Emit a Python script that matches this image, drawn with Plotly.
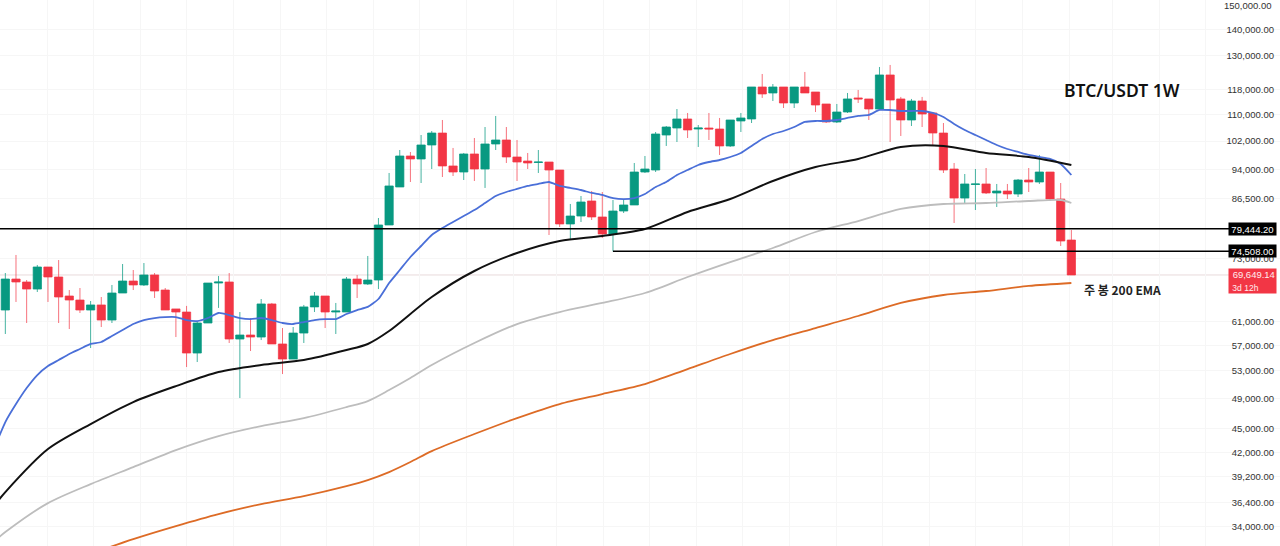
import math

import pandas as pd
import plotly.graph_objs as go

# weekly candles, first one is week 0
week_dates = pd.date_range("2024-02-26", periods=102, freq="W-MON")

opens = [
    63028, 68850, 68270, 66910, 71250, 69250, 65600, 64850, 63028, 63950,
    61257, 66160, 68460, 67690, 69649, 66724, 63230, 62670, 55760, 60740,
    68070, 68270, 58030, 58700, 58360, 64130, 57220, 54810, 59030, 63590,
    65600, 62670, 62670, 68850, 67880, 68652, 80310, 89490, 97750, 96920,
    100860, 104360, 95010, 93390, 98310, 94190, 101150, 102306, 97470, 96360,
    95950, 96090, 93924, 80540, 82390, 85990, 82160, 78270, 83570, 85020,
    93390, 93924, 103770, 105860, 108620, 105560, 105860, 105560, 100580, 108000,
    108620, 118980, 116970, 118980, 113680, 118980, 117300, 113360, 107690, 110800,
    115330, 115000, 111750, 123130, 115000, 108306, 114330, 110490, 104360, 94190,
    86720, 90130, 90260, 87970, 88470, 87720, 91286, 90770, 93390, 86470,
    76940,
]
highs = [
    70040, 73730, 68652, 71660, 71250, 72678, 66724, 67110, 64670, 65410,
    67690, 71860, 70637, 72060, 70040, 67110, 63230, 63770, 60910, 68070,
    69450, 70040, 62670, 61610, 65040, 64310, 59880, 60050, 63950, 66350,
    65600, 64310, 69250, 69649, 73520, 81920, 93130, 99432, 98870, 103770,
    104960, 108306, 100010, 98590, 102890, 106160, 109550, 106160, 102306, 98590,
    99432, 96090, 93924, 85260, 87220, 88470, 88220, 86229, 86229, 95820,
    97750, 104660, 106470, 111750, 110490, 106770, 110490, 108930, 108306, 110490,
    118980, 123470, 119990, 118980, 118980, 124180, 117300, 113360, 113360, 116970,
    117971, 115000, 125960, 126680, 115660, 115000, 115660, 110800, 107380, 95820,
    92860, 94190, 94460, 90260, 90260, 91550, 94460, 98030, 93390, 90510,
    79164,
]
lows = [
    58870, 64490, 60740, 66350, 64490, 60740, 59710, 62500, 56560, 60050,
    60740, 66160, 66724, 67500, 65230, 63028, 58360, 53580, 54350, 60740,
    63410, 57380, 49050, 56080, 57864, 57220, 52520, 54810, 57380, 62670,
    59880, 58870, 62670, 65230, 67690, 66910, 80310, 89490, 90770, 90510,
    94190, 92070, 92330, 91286, 91030, 89240, 99432, 95820, 91030, 94190,
    93130, 78050, 79850, 76940, 80990, 81453, 77380, 74508, 83090, 85020,
    93130, 93390, 100580, 101720, 102890, 100290, 102306, 98030, 100290, 104660,
    107380, 115330, 114330, 112070, 112070, 116970, 110800, 107380, 107380, 110490,
    113680, 108306, 111436, 101720, 103480, 106470, 106160, 100860, 93130, 80760,
    85500, 83807, 87720, 84530, 86470, 86970, 88220, 90260, 85990, 75640,
    69649,
]
closes = [
    68850, 68270, 66910, 71250, 69250, 65410, 64850, 63028, 63950, 61257,
    66160, 68460, 67690, 69649, 66540, 63028, 62670, 55760, 60740, 68070,
    68270, 58030, 58700, 58360, 64130, 57220, 54810, 59030, 63590, 65600,
    62670, 62850, 68850, 67880, 68652, 80310, 89750, 97750, 96920, 100860,
    104360, 95010, 93390, 98310, 94190, 101150, 102306, 97470, 96090, 95820,
    96090, 93924, 80540, 82390, 85740, 82160, 78270, 83570, 85020, 93390,
    94190, 104070, 106160, 108620, 105263, 105860, 105560, 100580, 108306, 108930,
    118980, 116640, 118980, 113680, 118980, 116970, 113030, 107690, 110800, 115000,
    115000, 111750, 123130, 114657, 108306, 114330, 110170, 104360, 93924, 86720,
    90260, 90260, 87970, 88470, 87720, 91286, 90770, 93390, 86470, 76720,
    69649,
]

# 20 EMA, one value for every week
ema20 = [
    42650, 45810, 48223, 50470, 52377, 53737, 54658, 55606, 56400, 57220, 57540,
    58530, 59536, 60570, 61257, 61610, 61780, 61780, 61257, 61080, 61610,
    62500, 62140, 61610, 61430, 61610, 61257, 60740, 60570, 60910, 61257,
    61430, 61430, 62320, 63028, 63590, 65040, 68070, 70637, 73310, 75640,
    78050, 79620, 80990, 82390, 83807, 85500, 87220, 88220, 88980, 89750,
    90260, 90770, 89750, 89240, 88722, 87970, 87470, 86720, 86470, 86720,
    87720, 89490, 90770, 92600, 93924, 95280, 96090, 96639, 97470, 98590,
    100580, 102600, 104070, 104960, 106160, 107690, 108000, 108000, 108306, 108930,
    109550, 109860, 111436, 111436, 111120, 111120, 111120, 110490, 109240, 107080,
    105263, 103770, 102306, 100860, 99720, 98870, 98030, 97470, 96920, 95550,
    92600,
]

# slower EMAs, read every few weeks
ema50_weeks = [0, 1, 5, 9, 13, 17, 21, 25, 29, 33, 35, 37, 41, 45, 49, 53, 57, 61, 65, 69, 73, 77, 81, 85, 89, 93, 97, 101]
ema50 = [
    36160, 37525, 42416, 45550, 48494, 50745, 52820, 53890, 54658, 56238, 57220, 59367, 65410, 70440,
    74140, 76720, 77830, 79390, 83330, 86470, 91030, 94730, 96920, 100290, 100580, 98590, 97470, 95280,
]
ema100_weeks = [0, 1, 5, 9, 13, 17, 21, 25, 29, 33, 35, 37, 39, 41, 45, 49, 53, 57, 61, 65, 69, 73, 77, 81, 85, 89, 93, 97, 100, 101]
ema100 = [
    32640, 33483, 36365, 38390, 40290, 42295, 44010, 45290, 46330, 47800, 48630, 50180, 51930, 53890, 57380,
    60560, 62670, 64310, 66160, 69250, 72260, 75210, 78720, 81220, 84050, 85260, 85500, 85990, 86229, 85500,
]
ema200_weeks = [10, 13, 17, 21, 25, 29, 33, 35, 37, 39, 41, 45, 49, 53, 57, 61, 65, 69, 73, 77, 81, 85, 89, 93, 97, 101]
ema200 = [
    31809, 32822, 34063, 35248, 36267, 37103, 38175, 38830, 39724, 40876, 42175, 44272, 46330,
    48223, 49616, 51051, 53270, 55606, 57864, 59880, 61965, 64310, 65787, 66540, 67500, 68070,
]

axis_ticks = [
    140000, 130000, 118000, 110000, 102000, 94000, 86500, 73000,
    61000, 57000, 53000, 49000, 45000, 42000, 39200, 36400, 34000,
]
top_tick = 150000

support_high = 79444.20
support_low = 74508.00
support_low_start = 58
last_price = 69649.14
countdown = "3d 12h"

fig = go.Figure()

fig.add_trace(
    go.Candlestick(
        x=week_dates[1:],
        open=opens,
        high=highs,
        low=lows,
        close=closes,
        whiskerwidth=0,
        increasing=dict(
            line=dict(color="rgba(8,153,129,0.75)", width=1), fillcolor="#089981"
        ),
        decreasing=dict(
            line=dict(color="rgba(242,54,69,0.7)", width=1), fillcolor="#F23645"
        ),
    )
)

fig.add_trace(
    go.Scatter(
        x=week_dates, y=ema20, mode="lines",
        line=dict(color="#4A6FD8", width=1.8, shape="spline", smoothing=0.5),
    )
)
fig.add_trace(
    go.Scatter(
        x=week_dates[ema50_weeks],
        y=ema50,
        mode="lines",
        line=dict(color="#111111", width=2, shape="spline", smoothing=0.8),
    )
)
fig.add_trace(
    go.Scatter(
        x=week_dates[ema100_weeks],
        y=ema100,
        mode="lines",
        line=dict(color="#BDBDBD", width=1.8, shape="spline", smoothing=0.8),
    )
)
fig.add_trace(
    go.Scatter(
        x=week_dates[ema200_weeks],
        y=ema200,
        mode="lines",
        line=dict(color="#DD6B26", width=1.8, shape="spline", smoothing=0.8),
    )
)

# horizontal levels, they stop at the price labels
fig.add_shape(
    type="line", xref="paper", x0=0, x1=0.962, yref="y", y0=last_price, y1=last_price,
    line=dict(color="#E8DADC", width=1), layer="below",
)
fig.add_shape(
    type="line", xref="paper", x0=0, x1=0.962, yref="y", y0=support_high, y1=support_high,
    line=dict(color="#000000", width=1.5),
)
fig.add_shape(
    type="line", x0=week_dates[support_low_start], x1=week_dates[-1] + pd.Timedelta(weeks=18),
    yref="y", y0=support_low, y1=support_low,
    line=dict(color="#000000", width=1.5),
)

for level in [support_high, support_low]:
    fig.add_annotation(
        xref="paper", x=0.998, xanchor="right", yref="y", y=math.log10(level),
        text=f"{level:,.2f}", showarrow=False, width=45, height=10, align="center",
        font=dict(family="Liberation Sans", size=9.5, color="white"),
        bgcolor="#000000", borderpad=1,
    )

fig.add_annotation(
    xref="paper", x=0.998, xanchor="right", yref="paper", y=1 - 281 / 546,
    text=(
        f"&nbsp;{last_price:,.2f}<br>"
        f"<span style='font-size:8.5px'>&nbsp;{countdown}</span>"
    ),
    showarrow=False, width=45, height=22, align="left",
    font=dict(family="Liberation Sans", size=9.5, color="#FFECEE"),
    bgcolor="#F23645", borderpad=1,
)

# plotly drops the inside tick label this close to the top edge
fig.add_annotation(
    xref="paper", x=1274 / 1280, xanchor="right", yref="y", y=math.log10(top_tick),
    text=f"{top_tick:,.2f}", showarrow=False,
    font=dict(family="Liberation Sans", size=9.5, color="#333333"),
)

fig.add_annotation(
    xref="paper", x=1062 / 1280, xanchor="left", yref="paper", y=1 - 76 / 546,
    text="BTC/USDT 1W", showarrow=False,
    font=dict(family="Noto Sans", size=17.5, color="#111111", weight=600),
)
fig.add_annotation(
    xref="paper", x=1082 / 1280, xanchor="left", yref="paper", y=1 - 289 / 546,
    text="주 봉 200 EMA", showarrow=False,
    font=dict(family="Noto Sans CJK KR", size=12, color="#222222", weight=700),
)

fig.update_layout(
    width=1280,
    height=546,
    margin=dict(l=0, r=0, t=0, b=0),
    showlegend=False,
    plot_bgcolor="white",
    paper_bgcolor="white",
    boxgap=0.12,
    boxgroupgap=0.12,
    xaxis=dict(
        range=["2024-02-29 12:00", "2026-06-19"],
        rangeslider=dict(visible=False),
        dtick="M1",
        showticklabels=False,
        showgrid=True,
        gridcolor="#F6F6F6",
        zeroline=False,
    ),
    yaxis=dict(
        type="log",
        side="right",
        range=[4.5076, 5.1831],
        tickmode="array",
        tickvals=axis_ticks,
        tickformat=",.2f",
        ticklabelposition="inside",
        ticklabelstandoff=3,
        ticks="",
        tickfont=dict(family="Liberation Sans", size=9.5, color="#333333"),
        showgrid=True,
        gridcolor="#F6F6F6",
        zeroline=False,
    ),
)

fig.write_html(
    "out.html",
    config=dict(displayModeBar=False),
    post_script="document.body.style.margin='0';",
)
